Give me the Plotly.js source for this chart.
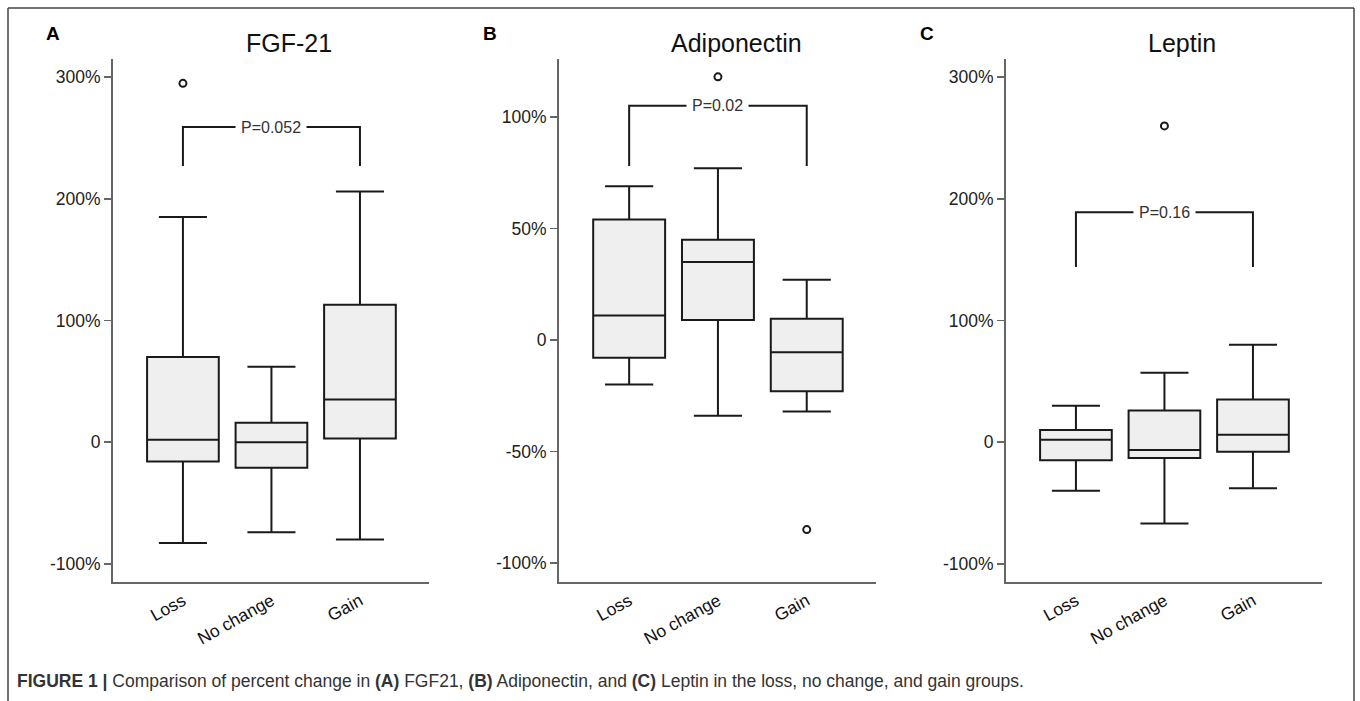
<!DOCTYPE html>
<html>
<head>
<meta charset="utf-8">
<script src="https://cdn.plot.ly/plotly-3.0.1.min.js"></script>
<style>
html,body{margin:0;padding:0;background:#fff;}
#chart{width:1360px;height:701px;}
</style>
</head>
<body>
<div id="chart"></div>
<script>
// ---- data ----
const groups = ["Loss", "No change", "Gain"];

// FGF-21 (% change)
const fgfLower = [-83, -74, -80];
const fgfQ1 = [-16, -21, 3];
const fgfMedian = [2, 0, 35];
const fgfQ3 = [70, 16, 113];
const fgfUpper = [185, 62, 206];
const fgfOutGroup = ["Loss"];
const fgfOutValue = [295];
const fgfBracket = [227, 259];
const fgfP = "P=0.052";

// Adiponectin (% change)
const adiLower = [-20, -34, -32];
const adiQ1 = [-8, 9, -23];
const adiMedian = [11, 35, -5.5];
const adiQ3 = [54, 45, 9.5];
const adiUpper = [69, 77, 27];
const adiOutGroup = ["No change", "Gain"];
const adiOutValue = [118, -85];
const adiBracket = [78, 105];
const adiP = "P=0.02";

// Leptin (% change)
const lepLower = [-40, -67, -38];
const lepQ1 = [-15, -13, -8];
const lepMedian = [2, -6.5, 6];
const lepQ3 = [10, 26, 35];
const lepUpper = [30, 57, 80];
const lepOutGroup = ["No change"];
const lepOutValue = [260];
const lepBracket = [144, 189];
const lepP = "P=0.16";

// tick labels
const tickValsWide = [-100, 0, 100, 200, 300];
const tickTextWide = ["-100%", "0", "100%", "200%", "300%"];
const tickValsNarrow = [-100, -50, 0, 50, 100];
const tickTextNarrow = ["-100%", "-50%", "0", "50%", "100%"];

const panelTitles = ["FGF-21", "Adiponectin", "Leptin"];
const panelLetters = ["A", "B", "C"];
const caption = "<b>FIGURE 1 |</b> Comparison of percent change in <b>(A)</b> FGF21, <b>(B)</b> Adiponectin, and <b>(C)</b> Leptin in the loss, no change, and gain groups.";

// ---- layout helpers ----
const W = 1360, H = 701;
const px = v => v / W;
const py = v => 1 - v / H;

const panels = [
  {ax: "", lo: fgfLower, q1: fgfQ1, med: fgfMedian, q3: fgfQ3, hi: fgfUpper, og: fgfOutGroup, ov: fgfOutValue, br: fgfBracket, p: fgfP,
   xd: [113, 429], yr: [-115, 315], tv: tickValsWide, tt: tickTextWide, titleX: 289, letterX: 45},
  {ax: "2", lo: adiLower, q1: adiQ1, med: adiMedian, q3: adiQ3, hi: adiUpper, og: adiOutGroup, ov: adiOutValue, br: adiBracket, p: adiP,
   xd: [559, 876], yr: [-108.5, 126], tv: tickValsNarrow, tt: tickTextNarrow, titleX: 736, letterX: 482},
  {ax: "3", lo: lepLower, q1: lepQ1, med: lepMedian, q3: lepQ3, hi: lepUpper, og: lepOutGroup, ov: lepOutValue, br: lepBracket, p: lepP,
   xd: [1006, 1322], yr: [-115, 315], tv: tickValsWide, tt: tickTextWide, titleX: 1182, letterX: 919}
];

const FONT = "Liberation Sans, Arial, sans-serif";
const traces = [];
const layout = {
  width: W, height: H,
  margin: {l: 0, r: 0, t: 0, b: 0},
  paper_bgcolor: "#fff", plot_bgcolor: "#fff",
  showlegend: false,
  font: {family: FONT, color: "#222"},
  annotations: [],
  shapes: []
};

panels.forEach((p, i) => {
  const xa = "x" + p.ax, ya = "y" + p.ax;
  traces.push({
    type: "box", xaxis: xa, yaxis: ya,
    x: groups, q1: p.q1, median: p.med, q3: p.q3,
    lowerfence: p.lo, upperfence: p.hi,
    boxpoints: false, width: 0.81, whiskerwidth: 0.67,
    fillcolor: "#efefef", line: {color: "#1a1a1a", width: 2},
    hoverinfo: "skip"
  });
  traces.push({
    type: "scatter", mode: "markers", xaxis: xa, yaxis: ya,
    x: p.og, y: p.ov,
    marker: {symbol: "circle-open", size: 7, color: "#1a1a1a", line: {width: 2, color: "#1a1a1a"}},
    hoverinfo: "skip"
  });
  traces.push({
    type: "scatter", mode: "lines", xaxis: xa, yaxis: ya,
    x: [groups[0], groups[0], groups[2], groups[2]],
    y: [p.br[0], p.br[1], p.br[1], p.br[0]],
    line: {color: "#1a1a1a", width: 2},
    hoverinfo: "skip"
  });
  const xKey = "xaxis" + p.ax, yKey = "yaxis" + p.ax;
  layout[xKey] = {
    domain: [px(p.xd[0]), px(p.xd[1])], anchor: ya,
    type: "category", categoryorder: "array", categoryarray: groups,
    range: [-0.79, 2.78],
    showline: true, linecolor: "#666", linewidth: 2,
    ticks: "", tickangle: -29,
    tickfont: {size: 17.5, color: "#111", family: FONT},
    showgrid: false, zeroline: false, fixedrange: true
  };
  layout[yKey] = {
    domain: [py(582), py(59)], anchor: xa,
    range: p.yr,
    tickvals: p.tv, ticktext: p.tt,
    ticks: "outside", ticklen: 7, tickwidth: 1.5, tickcolor: "#666",
    tickfont: {size: 17.5, color: "#222", family: FONT},
    showline: true, linecolor: "#666", linewidth: 2,
    showgrid: false, zeroline: false, fixedrange: true
  };
  // p-value label over bracket
  layout.annotations.push({
    xref: xa, yref: ya, x: groups.indexOf("No change"), y: p.br[1],
    text: p.p, showarrow: false, bgcolor: "#fff", borderpad: 5,
    font: {size: 16, color: "#333", family: FONT}, xanchor: "center", yanchor: "middle"
  });
  // panel title
  layout.annotations.push({
    xref: "paper", yref: "paper", x: px(p.titleX), y: py(43),
    text: panelTitles[i], showarrow: false, xanchor: "center", yanchor: "middle",
    font: {size: 25, color: "#111", family: FONT}
  });
  // panel letter
  layout.annotations.push({
    xref: "paper", yref: "paper", x: px(p.letterX - 1), y: py(34),
    text: "<b>" + panelLetters[i] + "</b>", showarrow: false, xanchor: "left", yanchor: "middle",
    font: {size: 19, color: "#000", family: FONT}
  });
});

// caption
layout.annotations.push({
  xref: "paper", yref: "paper", x: px(15), y: py(681),
  text: caption, showarrow: false, xanchor: "left", yanchor: "middle",
  font: {size: 17.5, color: "#333", family: FONT}
});

// outer frame (open at bottom)
layout.shapes.push(
  {type: "line", xref: "paper", yref: "paper", x0: px(8), x1: px(1354), y0: py(8), y1: py(8), line: {color: "#444", width: 1.5}},
  {type: "line", xref: "paper", yref: "paper", x0: px(8), x1: px(8), y0: py(8), y1: 0, line: {color: "#444", width: 1.5}},
  {type: "line", xref: "paper", yref: "paper", x0: px(1354), x1: px(1354), y0: py(8), y1: 0, line: {color: "#444", width: 1.5}}
);

Plotly.newPlot("chart", traces, layout, {displayModeBar: false, staticPlot: true});
</script>
</body>
</html>
